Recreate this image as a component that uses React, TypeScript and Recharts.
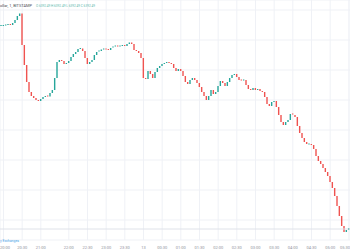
import React from 'react';
import { ComposedChart, Bar, XAxis, YAxis, CartesianGrid, ReferenceLine } from 'recharts';

// closing price of each 1-minute candle, left to right
const closes = [
  10490, 10490, 10500, 10510, 10500, 10540, 10600, 10680, 10730, 10100,
  9700, 9360, 9160, 9080, 9040, 9000, 8980, 9020, 9060, 9080,
  9070, 9140, 9200, 9440, 9760, 9800, 9780, 9720, 9740, 9780,
  9860, 9920, 9960, 10020, 10030, 9980, 9840, 9720, 9760, 9800,
  9900, 9960, 9980, 10010, 10020, 10010, 10000, 10040, 10060, 10080,
  10060, 10080, 10100, 10080, 10120, 10150, 10120, 10000, 9980, 9940,
  9840, 9440, 9420, 9580, 9520, 9440, 9560, 9640, 9680, 9720,
  9740, 9750, 9740, 9720, 9640, 9580, 9620, 9580, 9480, 9360,
  9320, 9400, 9440, 9400, 9340, 9260, 9160, 9080, 9000, 9080,
  9200, 9120, 9160, 9280, 9380, 9340, 9280, 9360, 9440, 9500,
  9520, 9460, 9400, 9380, 9400, 9300, 9220, 9200, 9240, 9200,
  9220, 9180, 9160, 9060, 8920, 8880, 8960, 8980, 8860, 8700,
  8560, 8500, 8560, 8600, 8720, 8700, 8660, 8480, 8340, 8240,
  8160, 8120, 8120, 8100, 8020, 7880, 7780, 7720, 7640, 7560,
  7480, 7360, 7240, 7080, 6880, 6680, 6480, 6360, 6400, 6440,
];
const firstOpen = 10480;

// candle index of each time label on the bottom axis
const tickIndex = [1, 9, 17, 29, 37, 45, 53, 61, 69, 77, 85, 93, 101, 109, 117, 125, 133, 141, 149];
const tickLabels = [
  '20:00', '20:30', '21:00', '22:00', '22:30', '23:00', '23:30', '13', '00:30', '01:00',
  '01:30', '02:00', '02:30', '03:00', '03:30', '04:00', '04:30', '05:00', '05:30',
];
const priceTicks = [6600, 7200, 7800, 8400, 9000, 9600, 10200, 10800];
const lastLine = 6420;

const UP = '#26a69a';
const DOWN = '#ef5350';

const candles = closes.map((c, i) => {
  const o = i === 0 ? firstOpen : closes[i - 1];
  return { i, o, c, range: [Math.min(o, c), Math.max(o, c)] };
});

const Candle = (props: any) => {
  const { x, y, width, height, payload } = props;
  const color = payload.c >= payload.o ? UP : DOWN;
  const h = Math.max(height, 1);
  const top = height < 1 ? y - 0.5 : y;
  const w = 1.4;
  return <rect x={x + width / 2 - w / 2} y={top} width={w} height={h} fill={color} />;
};

const TimeTick = (props: any) => {
  const { x, payload } = props;
  const k = tickIndex.indexOf(payload.value);
  const anchor = k === 0 ? 'start' : k === tickIndex.length - 1 ? 'end' : 'middle';
  const tx = k === 0 ? 0 : k === tickIndex.length - 1 ? 350 : x;
  return (
    <text x={tx} y={249} textAnchor={anchor} fontSize={4} fill="#8f929b">
      {k >= 0 ? tickLabels[k] : ''}
    </text>
  );
};

export default function App() {
  return (
    <div
      style={{
        position: 'absolute',
        left: 0,
        top: 0,
        width: 350,
        height: 250,
        background: '#fff',
        overflow: 'hidden',
        fontFamily: 'Roboto, sans-serif',
      }}
    >
      <ComposedChart
        width={350}
        height={250}
        data={candles}
        margin={{ top: 0, right: 0, bottom: 0, left: 0 }}
      >
        <CartesianGrid stroke="#eff1f6" strokeWidth={1} />
        <XAxis
          type="number"
          dataKey="i"
          domain={[-0.5, closes.length - 0.5]}
          ticks={tickIndex}
          interval={0}
          height={10}
          axisLine={false}
          tickLine={false}
          tick={<TimeTick />}
        />
        <YAxis hide domain={[6200, 11000]} ticks={priceTicks} allowDataOverflow />
        <ReferenceLine y={lastLine} stroke="#dfe2e9" strokeWidth={1} />
        <Bar dataKey="range" barSize={2} shape={<Candle />} isAnimationActive={false} />
      </ComposedChart>
      <svg
        width={350}
        height={250}
        style={{ position: 'absolute', left: 0, top: 0, pointerEvents: 'none' }}
      >
        <text x={0} y={7} fontSize={4.2} fill="#4a4d57" textLength={32} lengthAdjust="spacingAndGlyphs">
          ollar, 1, BITSTAMP
        </text>
        <text x={36} y={7} fontSize={4.2} fill="#5cb8ad" textLength={59} lengthAdjust="spacingAndGlyphs">
          O 6392.49 H 6392.49 L 6392.49 C 6392.49
        </text>
        <text x={0} y={241.5} fontSize={4.2} fill="#4aa3e8" textLength={19} lengthAdjust="spacingAndGlyphs">
          y Exchanges
        </text>
      </svg>
    </div>
  );
}
